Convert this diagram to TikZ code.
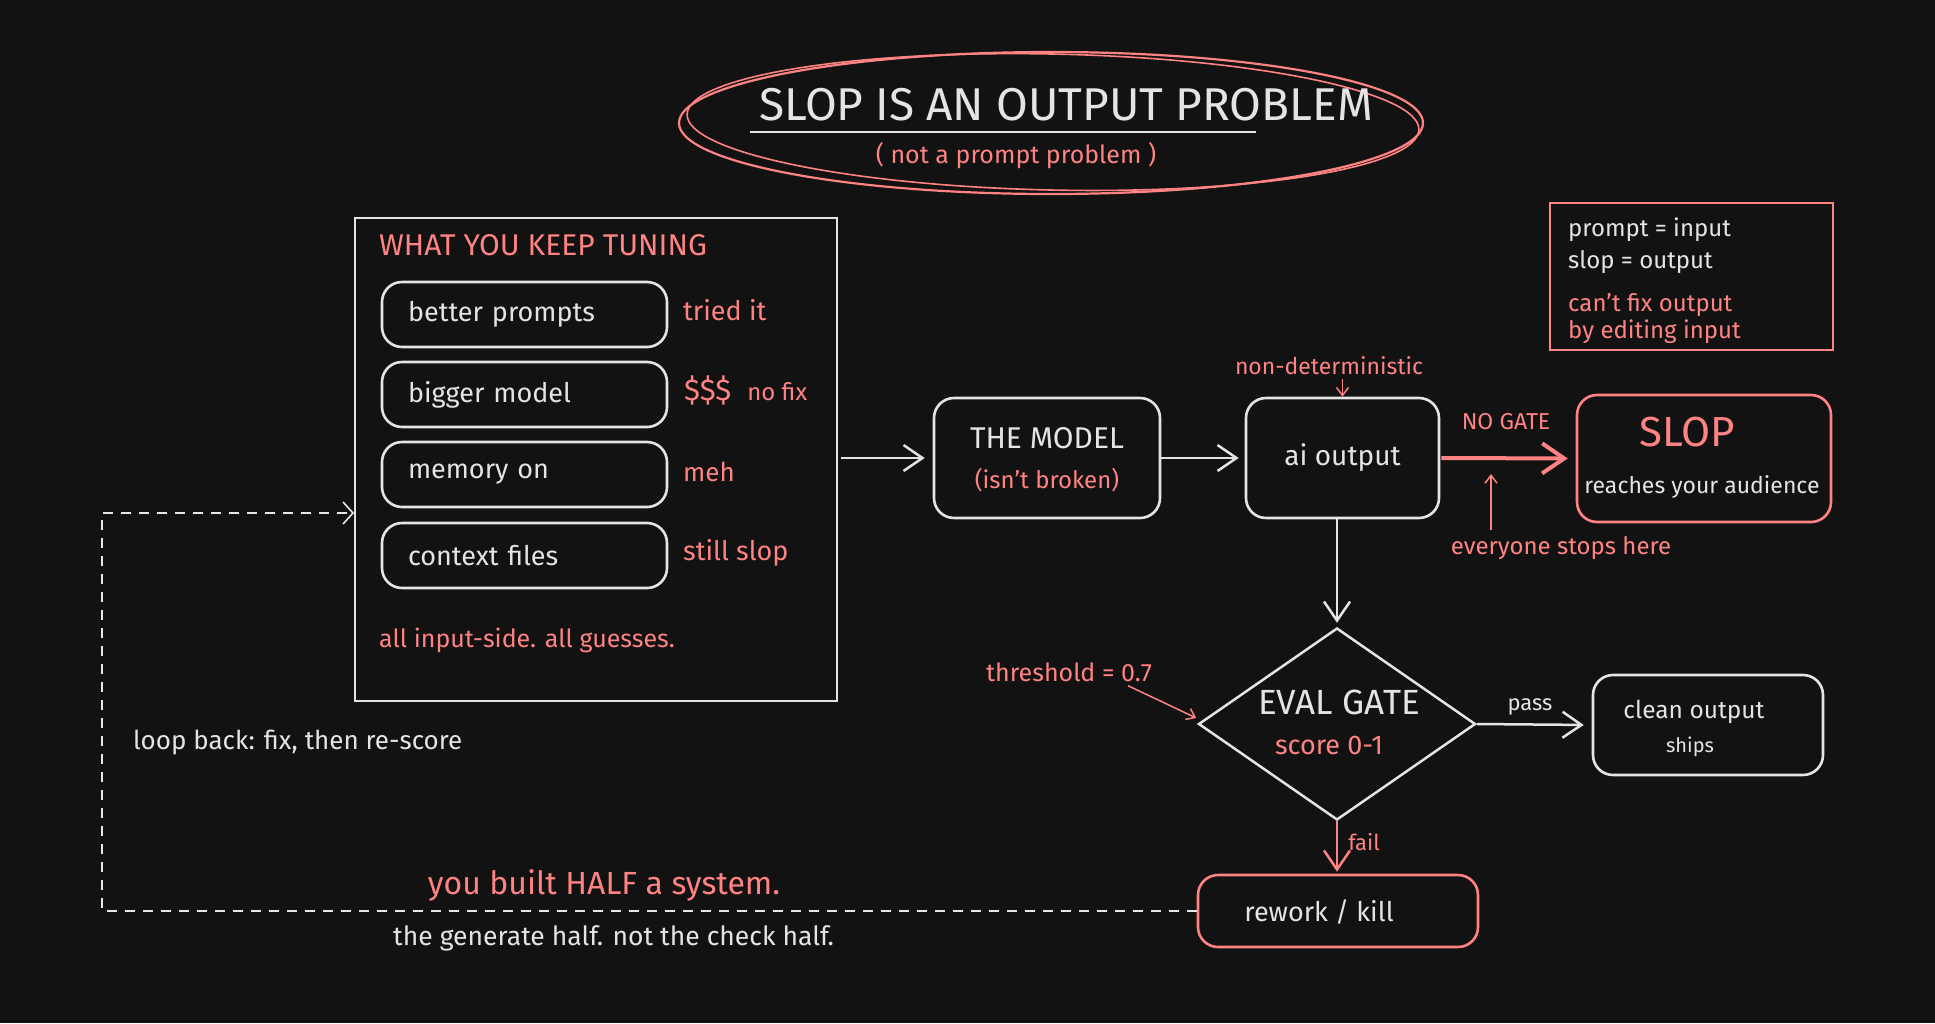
\documentclass[tikz,border=0pt]{standalone}
\usepackage{fontspec}
\setmainfont{Fira Sans}
\usetikzlibrary{arrows.meta,shapes.geometric,calc}
\definecolor{bg}{HTML}{121212}
\definecolor{ink}{HTML}{E4E4E4}
\definecolor{salmon}{HTML}{FF8383}
\newcommand{\fsz}[2]{\fontsize{#1pt}{#2pt}\selectfont}
\begin{document}
\begin{tikzpicture}[x=1pt,y=-1pt,
  font=\fsz{23}{27},
  txt/.style={text=ink, inner sep=0pt},
  rtxt/.style={text=salmon, inner sep=0pt},
  plainbox/.style={draw=ink, line width=1.8pt, inner sep=0pt},
  rbox/.style={draw=ink, line width=2.6pt, rounded corners=20pt, inner sep=0pt, text=ink},
  ibox/.style={rbox, minimum width=285pt, minimum height=65pt, text width=233pt, inner xsep=26pt, align=left, font=\fsz{27}{30}},
  tipw/.style={-{Straight Barb[length=19pt,width=26pt,line width=2.5pt]}},
  arr/.style={draw=ink, line width=2.5pt, tipw},
  rarr/.style={draw=salmon, line width=4pt, -{Straight Barb[length=22pt,width=30pt,line width=4pt]}},
  thin/.style={line width=1.5pt, -{Straight Barb[length=8pt,width=12pt,line width=1.5pt]}},
]
\useasboundingbox (0,0) rectangle (1935,1023);
\fill[bg] (0,0) rectangle (1935,1023);

% title
\draw[salmon, line width=2.2pt] (1051,123) ellipse [x radius=372, y radius=71];
\draw[salmon, line width=1.6pt, rotate around={-1.2:(1051,123)}] (1053,122) ellipse [x radius=366, y radius=68];
\node[txt] (title) at (1066,105) {\fsz{46}{50}SLOP IS AN OUTPUT PROBLEM};
\coordinate (ulA) at (750,132);
\coordinate (ulB) at (1256,132);
\draw[ink, line width=2pt] (ulA) -- (ulB);
\node[rtxt] (subtitle) at (1016,156) {\fsz{25}{28}( not a prompt problem )};

% tuning box
\node[plainbox, minimum width=482pt, minimum height=483pt] (tuning) at (596,459.5) {};
\node[rtxt, anchor=west] (tunetitle) at (379,245) {\fsz{30}{34}WHAT YOU KEEP TUNING};
\node[ibox] (b1) at (524.5,314.5) {better prompts};
\node[ibox] (b2) at (524.5,394.5) {bigger model};
\node[ibox] (b3) at (524.5,474.5) {memory on};
\node[ibox] (b4) at (524.5,555.5) {context files};
\node[rtxt, anchor=west] (n1) at (683,310) {\fsz{27}{30}tried it};
\node[rtxt, anchor=west] (n2) at (684,390) {{\fsz{30}{32}\$\$\$}\hspace{16pt}{\fsz{24}{28}no fix}};
\node[rtxt, anchor=west] (n3) at (683,472) {\fsz{26}{30}meh};
\node[rtxt, anchor=west] (n4) at (683,553) {\fsz{27}{30}still slop};
\node[rtxt, anchor=west] (guess) at (379,640) {\fsz{25}{28}all input-side. all guesses.};

% main flow
\node[rbox, minimum width=226pt, minimum height=120pt] (model) at (1047,458) {};
\node[txt] (modelt) at (1047,438) {\fsz{30}{34}THE MODEL};
\node[rtxt] (models) at (1047,480) {\fsz{24}{28}(isn't broken)};

\node[rbox, minimum width=193pt, minimum height=120pt, font=\fsz{28}{32}] (ai) at (1342.5,458) {ai output};
\node[rtxt] (nondet) at (1329,366) {\fsz{23}{26}non-deterministic};

\node[rbox, draw=salmon, minimum width=254pt, minimum height=127pt] (slop) at (1704,458.5) {};
\node[rtxt] (slopt) at (1687,432) {\fsz{42}{44}SLOP};
\node[txt] (slops) at (1702,487) {\fsz{23}{26}reaches your audience};

\node[rtxt] (nogate) at (1506,422) {\fsz{23}{26}NO GATE};
\node[rtxt] (stops) at (1561,548) {\fsz{24}{28}everyone stops here};
\coordinate (stopsTip) at (1491,474);

% legend
\node[plainbox, draw=salmon, minimum width=283pt, minimum height=147pt] (legend) at (1691.5,276.5) {};
\node[txt, anchor=west] (lg1) at (1568,230) {\fsz{24}{28}prompt = input};
\node[txt, anchor=west] (lg2) at (1568,262) {\fsz{24}{28}slop = output};
\node[rtxt, anchor=west] (lg3) at (1568,305) {\fsz{24}{28}can't fix output};
\node[rtxt, anchor=west] (lg4) at (1568,332) {\fsz{24}{28}by editing input};

% gate
\node[diamond, draw=ink, line width=2.5pt, minimum width=277pt, minimum height=192pt, inner sep=0pt] (gate) at (1337,724) {};
\node[txt] (gatet) at (1339,702) {\fsz{35}{38}EVAL GATE};
\node[rtxt] (gates) at (1329,745) {\fsz{27}{30}score 0-1};
\node[rtxt] (thr) at (1069,672) {\fsz{25}{28}threshold = 0.7};

\node[rbox, minimum width=230pt, minimum height=100pt] (clean) at (1708,725) {};
\node[txt] (cleant) at (1694,712) {\fsz{24.5}{28}clean output};
\node[txt] (cleans) at (1690,747) {\fsz{20}{24}ships};
\node[txt] (pass) at (1530,707) {\fsz{22}{26}pass};

\node[rbox, draw=salmon, minimum width=280pt, minimum height=72pt] (rework) at (1338,911) {};
\node[txt] (reworkt) at (1319,912) {\fsz{27}{30}rework / kill};
\node[rtxt] (fail) at (1364,842) {\fsz{22}{26}fail};

% bottom texts
\node[txt, anchor=west] (loopl) at (133,743) {\fsz{26}{30}loop back: fix, then re-score};
\node[rtxt] (half) at (604,885) {\fsz{32}{36}you built HALF a system.};
\node[txt, anchor=west] (gen) at (393,938) {\fsz{26.5}{30}the generate half. not the check half.};
\coordinate (loopA) at (102,912);
\coordinate (loopB) at (102,513);

% connectors
\draw[arr, shorten <=3pt, shorten >=8pt] (tuning.east |- model.west) -- (model.west);
\draw[arr, shorten >=6pt] (model.east) -- (ai.west);
\draw[rarr, shorten <=1pt, shorten >=8pt] (ai.east) -- (slop.west);
\draw[arr, shorten >=4pt] (ai.south -| gate.north) -- (gate.north);
\draw[arr, shorten >=8pt] (gate.east) -- (clean.west);
\draw[draw=salmon, line width=2.5pt, tipw, shorten >=2pt] (gate.south) -- (rework.north -| gate.south);
\draw[salmon, thin] (nondet.south -| ai.north) ++(0,4) -- (ai.north);
\draw[salmon, thin] (stops.north -| stopsTip) ++(0,-6) -- (stopsTip);
\draw[salmon, thin] ($(thr.south east)+(-24,4)$) -- ($(gate.west)+(-1,-6)$);
\draw[ink!85, line width=1.6pt, dash pattern=on 10pt off 8pt, -{Straight Barb[length=10pt,width=22pt,line width=1.6pt]}]
  (rework.west) -- (rework.west -| loopA) -- (loopB) -- (tuning.west |- loopB);
\end{tikzpicture}
\end{document}
